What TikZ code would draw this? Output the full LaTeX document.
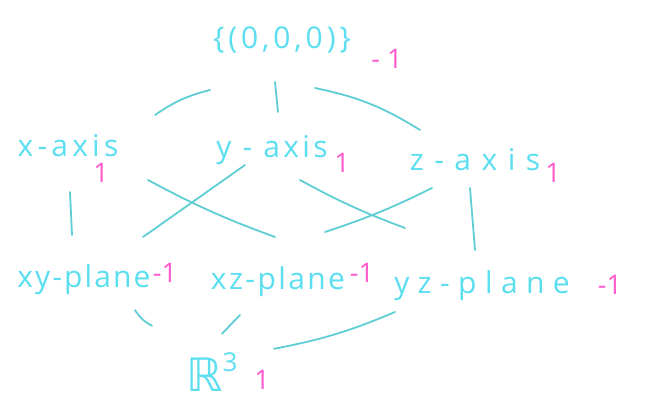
\documentclass[tikz,border=0pt]{standalone}
\usepackage{fontspec}
\setmainfont{Open Sans}
\newfontfamily\symfont{DejaVu Sans}
\usetikzlibrary{calc}
\definecolor{ink}{RGB}{90,222,240}
\definecolor{edgec}{RGB}{95,205,212}
\definecolor{rankc}{RGB}{255,90,205}
\tikzset{
 lbl/.style={text=ink, font=\fontsize{30}{30}\selectfont, inner sep=0pt, anchor=center},
 rk/.style={text=rankc, font=\fontsize{27}{27}\selectfont, inner sep=0pt},
 link/.style={draw=edgec, line width=1.8pt, line cap=round},
}
\newcommand{\spc}[2]{\addfontfeature{LetterSpace=#1}#2}
\begin{document}
\begin{tikzpicture}[x=1pt,y=-1pt]
\useasboundingbox (0,0) rectangle (646,402);
% elements
\node[lbl] (top) at (282,40) {\spc{13}{\{(0,0,0)\}}};
\node[lbl] (xa) at (68,146) {\spc{14}{x-axis}};
\node[lbl] (ya) at (272,150) {\spc{11}{y - axis}};
\node[lbl] (za) at (475,160) {\spc{35}{z-axis}};
\node[lbl] (xy) at (84,280) {\spc{7}{xy-plane}};
\node[lbl] (xz) at (278,282) {\spc{8}{xz-plane}};
\node[lbl] (yz) at (482,286) {\spc{28}{yz-plane}};
\node[lbl, anchor=south west] (r3) at (186,392) {{\symfont\fontsize{46}{46}\selectfont ℝ}\raisebox{20pt}{\fontsize{26}{26}\selectfont 3}};
% rank labels
\node[rk] (rtop) at (387,59) {- 1};
\node[rk] (rxa) at (101,173) {1};
\node[rk] (rya) at (342,163) {1};
\node[rk] (rza) at (553,173) {1};
\node[rk] (rxy) at (165,273) {-1};
\node[rk] (rxz) at (362,273) {-1};
\node[rk] (ryz) at (610,285) {-1};
\node[rk] (rr3) at (262,380) {1};
% connectors
\draw[link] ($(top)+(-72,50)$) to[bend right=10] ($(xa)+(87,-31)$);
\draw[link] ($(top)+(-7,42)$) -- ($(ya)+(6,-38)$);
\draw[link] ($(top)+(33,48)$) to[bend left=10] ($(za)+(-55,-30)$);
\draw[link] ($(xa)+(2,46)$) -- ($(xy)+(-12,-45)$);
\draw[link] ($(xa)+(80,34)$) to[bend right=4] ($(xz)+(-3,-45)$);
\draw[link] ($(ya)+(-27,15)$) -- ($(xy)+(59,-43)$);
\draw[link] ($(ya)+(28,30)$) to[bend right=4] ($(yz)+(-77,-58)$);
\draw[link] ($(za)+(-43,28)$) to[bend left=4] ($(xz)+(47,-50)$);
\draw[link] ($(za)+(-5,28)$) -- ($(yz)+(-7,-36)$);
\draw[link] ($(xy)+(51,30)$) to[bend right=15] ($(r3.north west)+(-34,-27)$);
\draw[link] ($(xz)+(-38,33)$) -- ($(r3.north west)+(36,-19)$);
\draw[link] ($(yz)+(-87,26)$) to[bend left=6] ($(r3.north west)+(88,-4)$);
\end{tikzpicture}
\end{document}
